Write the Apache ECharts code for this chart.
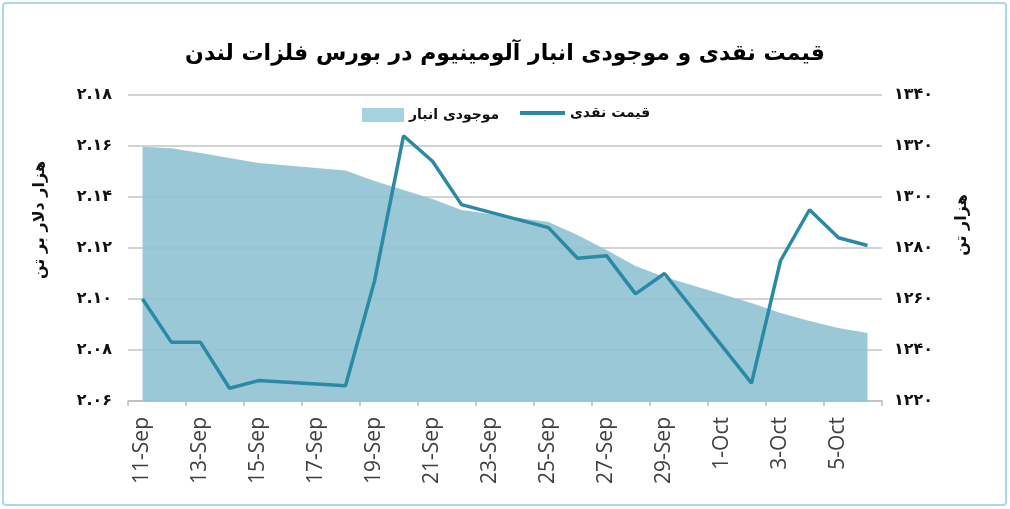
<!DOCTYPE html>
<html>
<head>
<meta charset="utf-8">
<script src="https://cdn.jsdelivr.net/npm/echarts@6/dist/echarts.min.js"></script>
<style>
html,body{margin:0;padding:0;background:#fff;}
#chart{width:1010px;height:509px;}
</style>
</head>
<body>
<div id="chart"></div>
<script>
var titleText = 'قیمت نقدی و موجودی انبار آلومینیوم در بورس فلزات لندن';
var priceName = 'قیمت نقدی';
var stockName = 'موجودی انبار';
var leftAxisName = 'هزار دلار بر تن';
var rightAxisName = 'هزار تن';

var categories = ['11-Sep','12-Sep','13-Sep','14-Sep','15-Sep','16-Sep','17-Sep','18-Sep','19-Sep','20-Sep',
  '21-Sep','22-Sep','23-Sep','24-Sep','25-Sep','26-Sep','27-Sep','28-Sep','29-Sep','30-Sep',
  '1-Oct','2-Oct','3-Oct','4-Oct','5-Oct','6-Oct'];

// cash price (thousand USD per tonne), weekends null
var priceValues = [2.100, 2.083, 2.083, 2.065, 2.068, null, null, 2.066, 2.107, 2.164,
  2.154, 2.137, null, null, 2.128, 2.116, 2.117, 2.102, 2.110, null,
  null, 2.067, 2.115, 2.135, 2.124, 2.121];

// stock (thousand tonnes), weekends null
var stockValues = [1319.7, 1319.1, 1317.3, 1315.3, 1313.3, null, null, 1310.4, 1306.3, 1302.7,
  1299.2, 1294.9, null, null, 1290.2, 1285.1, 1279.2, 1272.9, 1268.6, null,
  null, 1258.4, 1254.5, 1251.4, 1248.6, 1246.7];

var leftTickLabels = ['۲.۰۶','۲.۰۸','۲.۱۰','۲.۱۲','۲.۱۴','۲.۱۶','۲.۱۸'];
var rightTickLabels = ['۱۲۲۰','۱۲۴۰','۱۲۶۰','۱۲۸۰','۱۳۰۰','۱۳۲۰','۱۳۴۰'];

var faFont = '"DejaVu Sans", sans-serif';
var legendText = { fontFamily: faFont, fontSize: 14, fontWeight: 'bold', color: '#111' };

var chart = echarts.init(document.getElementById('chart'));
chart.setOption({
  backgroundColor: '#ffffff',
  animation: false,
  title: {
    text: titleText,
    left: 'center',
    top: 38,
    textStyle: { fontFamily: faFont, fontSize: 22, fontWeight: 'bold', color: '#000' }
  },
  legend: [
    {
      left: 357,
      top: 103,
      itemWidth: 42,
      itemHeight: 14,
      textStyle: legendText,
      data: [{ name: stockName, icon: 'rect', itemStyle: { color: '#a6d2e0' } }]
    },
    {
      left: 515,
      top: 101,
      itemWidth: 45,
      itemHeight: 4,
      textStyle: legendText,
      data: [{ name: priceName, icon: 'rect', itemStyle: { color: '#2a8aa6' } }]
    }
  ],
  grid: { left: 128, right: 128, top: 95, bottom: 108, containLabel: false },
  xAxis: {
    type: 'category',
    data: categories,
    boundaryGap: true,
    axisLine: { show: true, lineStyle: { color: '#bdbdbd', width: 1.5 } },
    axisTick: { show: true, interval: 1, length: 5, lineStyle: { color: '#bdbdbd', width: 1.5 } },
    axisLabel: { interval: 1, rotate: 90, margin: 16, fontFamily: '"Open Sans", sans-serif', fontSize: 21, color: '#404040' },
    splitLine: { show: false }
  },
  yAxis: [
    {
      type: 'value',
      min: 2.06, max: 2.18, interval: 0.02,
      position: 'left',
      axisLine: { show: false },
      axisTick: { show: false },
      axisLabel: {
        margin: 16,
        fontFamily: faFont, fontSize: 16, fontWeight: 'bold', color: '#111',
        formatter: function (v, i) { return leftTickLabels[i]; }
      },
      splitLine: { show: true, lineStyle: { color: '#c4c4c4', width: 1.5 } }
    },
    {
      type: 'value',
      min: 1220, max: 1340, interval: 20,
      position: 'right',
      axisLine: { show: false },
      axisTick: { show: false },
      axisLabel: {
        margin: 12,
        fontFamily: faFont, fontSize: 16, fontWeight: 'bold', color: '#111',
        formatter: function (v, i) { return rightTickLabels[i]; }
      },
      splitLine: { show: false }
    }
  ],
  graphic: [
    {
      type: 'rect',
      shape: { x: 3, y: 3, width: 1003, height: 502, r: 3 },
      style: { fill: 'none', stroke: '#a9d9e7', lineWidth: 2 },
      silent: true
    },
    {
      type: 'text',
      x: 40, y: 220,
      rotation: Math.PI / 2,
      style: { text: leftAxisName, fontFamily: faFont, fontSize: 16, fontWeight: 'bold', fill: '#111', align: 'center', verticalAlign: 'middle' }
    },
    {
      type: 'text',
      x: 962, y: 225,
      rotation: Math.PI / 2,
      style: { text: rightAxisName, fontFamily: faFont, fontSize: 16, fontWeight: 'bold', fill: '#111', align: 'center', verticalAlign: 'middle' }
    }
  ],
  series: [
    {
      name: stockName,
      type: 'line',
      yAxisIndex: 1,
      data: stockValues,
      connectNulls: true,
      symbol: 'none',
      lineStyle: { width: 0 },
      itemStyle: { color: '#8fc2d3' },
      areaStyle: { color: '#8fc2d3', opacity: 0.9 },
      z: 1
    },
    {
      name: priceName,
      type: 'line',
      yAxisIndex: 0,
      data: priceValues,
      connectNulls: true,
      symbol: 'none',
      lineStyle: { color: '#2a8aa6', width: 3.5 },
      itemStyle: { color: '#2a8aa6' },
      z: 3
    }
  ]
});
</script>
</body>
</html>
